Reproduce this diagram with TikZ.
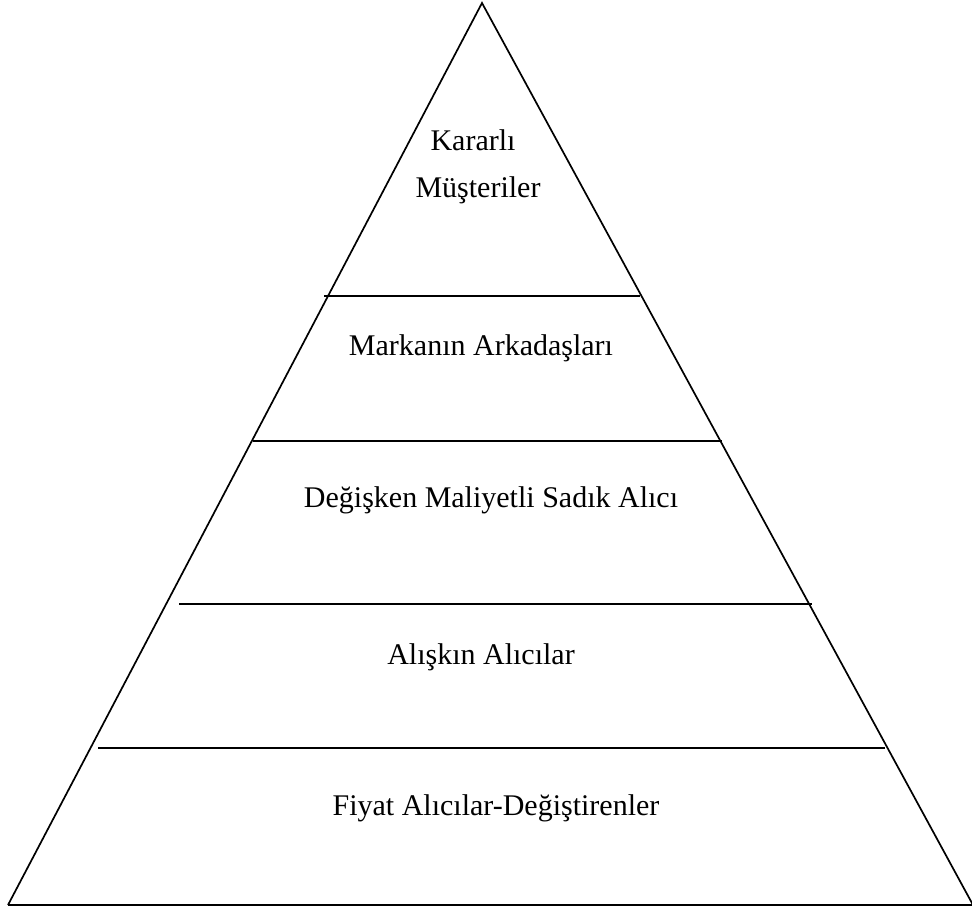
\documentclass[tikz,border=0pt]{standalone}
\usepackage{fontspec}
\setmainfont{Liberation Serif}
\begin{document}
\begin{tikzpicture}[x=1pt,y=-1pt,
  edge/.style={line width=1.7pt},
  label/.style={font=\fontsize{30}{35}\selectfont, inner sep=0pt, anchor=center}]
\useasboundingbox[fill=white] (0,0) rectangle (972,909);
\coordinate (apex) at (482,3);
\coordinate (bl) at (8,905);
\coordinate (br) at (973,905);
\draw[edge, line join=miter] (bl) -- (apex) -- (br);
\draw[edge] (bl) -- (972,905);
\draw[edge] (324,296) -- (640,296);
\draw[edge] (253,441) -- (722,441);
\draw[edge] (179,604) -- (812,604);
\draw[edge] (98,748) -- (885,748);
\node[label] (k1) at (473,140) {Kararlı};
\node[label] (k2) at (478,190) {Müşteriler};
\node[label] (m) at (481,348) {Markanın Arkadaşları};
\node[label] (d) at (491,500) {Değişken Maliyetli Sadık Alıcı};
\node[label] (a) at (481,657) {Alışkın Alıcılar};
\node[label] (f) at (496,808) {Fiyat Alıcılar-Değiştirenler};
\end{tikzpicture}
\end{document}
